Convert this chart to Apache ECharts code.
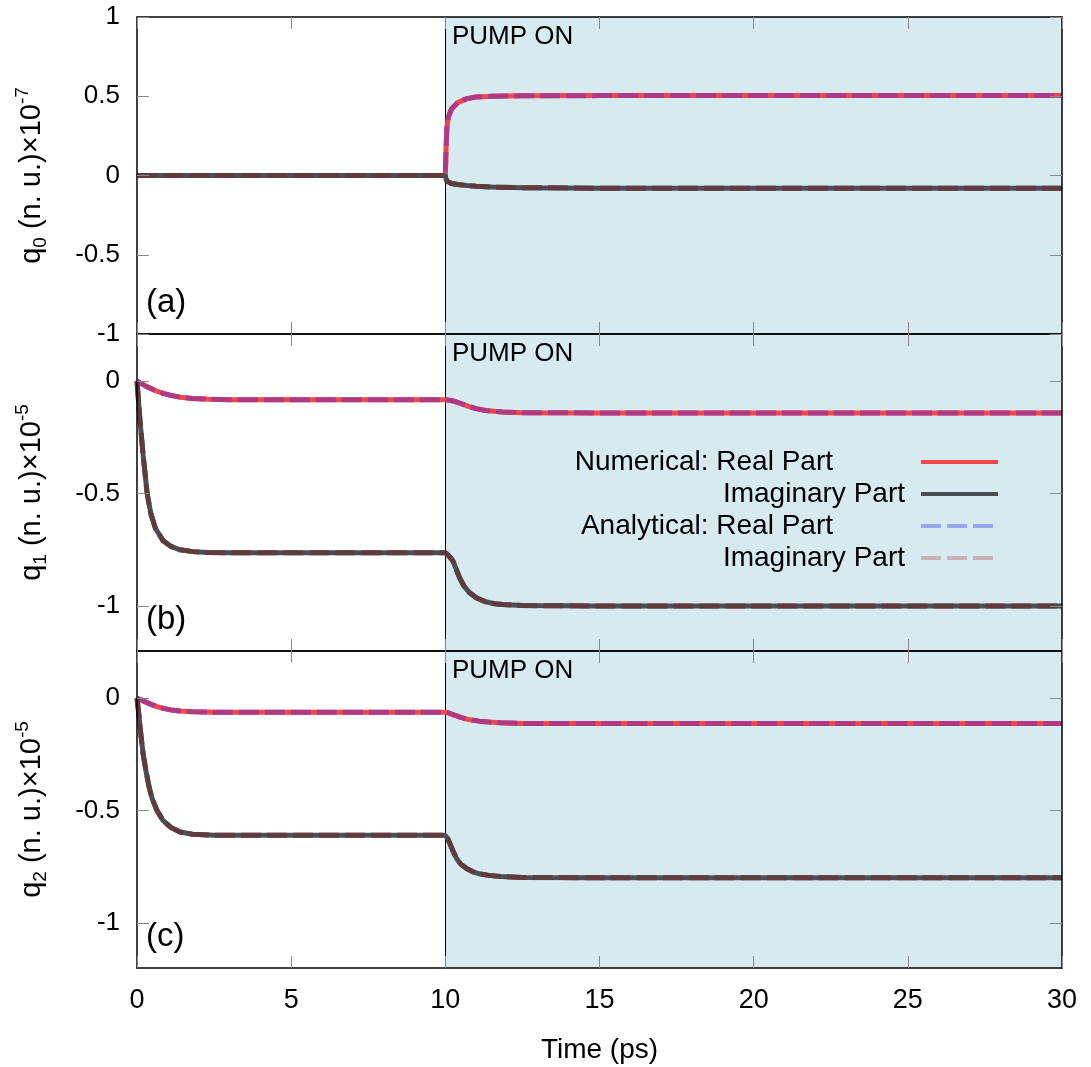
<!DOCTYPE html>
<html>
<head>
<meta charset="utf-8">
<script src="https://cdn.jsdelivr.net/npm/echarts@6/dist/echarts.min.js"></script>
<style>html,body{margin:0;padding:0;background:#fff}#c{width:1091px;height:1067px}</style>
</head>
<body>
<div id="c"></div>
<script>
// ---------- data ----------
const xTicks = [0, 5, 10, 15, 20, 25, 30];
const pumpOnTime = 10;

// panel (a): q0 x1e-7
const timeA = [0, 10, 10.02, 10.05, 10.1, 10.2, 10.4, 10.7, 11, 11.5, 12.5, 15, 20, 30];
const realA = [0, 0, 0.15, 0.30, 0.37, 0.42, 0.46, 0.485, 0.495, 0.50, 0.503, 0.504, 0.504, 0.504];
const imagA = [0, 0, -0.02, -0.035, -0.042, -0.05, -0.057, -0.063, -0.068, -0.073, -0.077, -0.08, -0.08, -0.08];

// panel (b): q1 x1e-5
const timeB = [0, 0.05, 0.1, 0.2, 0.33, 0.45, 0.6, 0.85, 1.1, 1.4, 1.8, 2.3, 3, 5, 10, 10.1, 10.25, 10.35, 10.46, 10.6, 10.78, 11, 11.3, 11.6, 11.85, 12.5, 15, 20, 30];
const realB = [0, -0.004, -0.008, -0.015, -0.025, -0.032, -0.042, -0.054, -0.063, -0.071, -0.077, -0.08, -0.082, -0.082, -0.082, -0.084, -0.088, -0.092, -0.097, -0.104, -0.113, -0.122, -0.13, -0.134, -0.137, -0.14, -0.141, -0.141, -0.141];
const imagB = [0, -0.09, -0.18, -0.33, -0.5, -0.59, -0.655, -0.71, -0.735, -0.75, -0.758, -0.762, -0.763, -0.763, -0.763, -0.775, -0.80, -0.835, -0.874, -0.91, -0.94, -0.963, -0.981, -0.99, -0.993, -0.998, -1.0, -1.0, -1.0];

// panel (c): q2 x1e-5
const timeC = [0, 0.05, 0.1, 0.2, 0.3, 0.4, 0.5, 0.65, 0.85, 1.1, 1.4, 1.8, 2.5, 5, 10, 10.08, 10.15, 10.25, 10.37, 10.5, 10.7, 10.9, 11.1, 11.4, 11.8, 12.5, 15, 20, 30];
const realC = [0, -0.003, -0.006, -0.012, -0.018, -0.024, -0.03, -0.037, -0.045, -0.052, -0.057, -0.06, -0.062, -0.062, -0.062, -0.064, -0.068, -0.073, -0.079, -0.085, -0.093, -0.098, -0.102, -0.106, -0.109, -0.112, -0.113, -0.113, -0.113];
const imagC = [0, -0.06, -0.13, -0.25, -0.33, -0.40, -0.45, -0.5, -0.545, -0.575, -0.595, -0.605, -0.61, -0.61, -0.61, -0.625, -0.647, -0.68, -0.714, -0.738, -0.759, -0.772, -0.781, -0.788, -0.793, -0.797, -0.799, -0.799, -0.799];

const yTicksA = [-1, -0.5, 0, 0.5, 1];
const yTicksBC = [-1, -0.5, 0];
const panelLetters = ['(a)', '(b)', '(c)'];
const ySubs = ['0', '1', '2'];
const ySups = ['-7', '-5', '-5'];
const seriesNames = ['Numerical: Real Part', 'Imaginary Part', 'Analytical: Real Part', 'Imaginary Part '];

// ---------- layout / style ----------
const FONT = "'Liberation Sans', Arial, sans-serif";
const panels = [
  { top: 17, height: 317, min: -1, max: 1, t: timeA, re: realA, im: imagA, ticks: yTicksA },
  { top: 334, height: 317, min: -1.2, max: 0.21, t: timeB, re: realB, im: imagB, ticks: yTicksBC },
  { top: 651, height: 317, min: -1.2, max: 0.21, t: timeC, re: realC, im: imagC, ticks: yTicksBC }
];
const LEFT = 137, WIDTH = 925;
const BG = '#d6eaf0';
const zip = (t, v) => t.map((x, k) => [x, v[k]]);

const grid = [], xAxis = [], yAxis = [], series = [], graphic = [];

panels.forEach((p, i) => {
  grid.push({ left: LEFT, width: WIDTH, top: p.top, height: p.height, containLabel: false });
  const isLast = i === panels.length - 1;
  const axisLine = { show: true, onZero: false, lineStyle: { color: '#000', width: 1.5 } };
  const tick = { show: true, inside: true, length: 12, lineStyle: { color: '#888', width: 1 } };
  xAxis.push({
    type: 'value', gridIndex: i, min: 0, max: 30, interval: 5, position: 'bottom', z: 5,
    axisLine, axisTick: tick, splitLine: { show: false },
    axisLabel: { show: isLast, margin: 19, fontSize: 27, color: '#000', fontFamily: FONT },
    name: isLast ? 'Time (ps)' : '', nameLocation: 'middle', nameGap: 68,
    nameTextStyle: { fontSize: 28, color: '#000', fontFamily: FONT }
  });
  xAxis.push({
    type: 'value', gridIndex: i, min: 0, max: 30, interval: 5, position: 'top', z: 5,
    axisLine, axisTick: tick, splitLine: { show: false }, axisLabel: { show: false }
  });
  const yCommon = {
    type: 'value', gridIndex: i, min: p.min, max: p.max, z: 5,
    axisLine, splitLine: { show: false }
  };
  const tickCfg = i === 0 ? Object.assign({}, tick) : Object.assign({ customValues: p.ticks }, tick);
  const labCfg = { show: true, margin: 17, fontSize: 26, color: '#000', fontFamily: FONT };
  if (i !== 0) labCfg.customValues = p.ticks;
  const yLeft = Object.assign({}, yCommon, {
    position: 'left', axisTick: tickCfg, axisLabel: labCfg,
    name: `{b|q}{s|${ySubs[i]}}{b| (n. u.)×10}{p|${ySups[i]}}`,
    nameLocation: 'middle', nameGap: 87, nameRotate: 90,
    nameTextStyle: {
      color: '#000', fontFamily: FONT, fontSize: 29,
      rich: {
        b: { fontSize: 29, fontFamily: FONT, color: '#000', lineHeight: 37 },
        s: { fontSize: 19, fontFamily: FONT, color: '#000', verticalAlign: 'bottom', lineHeight: 19 },
        p: { fontSize: 19, fontFamily: FONT, color: '#000', verticalAlign: 'top', lineHeight: 19 }
      }
    }
  });
  if (i === 0) yLeft.interval = 0.5;
  yAxis.push(yLeft);
  const yRight = Object.assign({}, yCommon, {
    position: 'right', axisTick: tickCfg, axisLabel: { show: false }
  });
  if (i === 0) yRight.interval = 0.5;
  yAxis.push(yRight);

  const xi = 2 * i, yi = 2 * i;
  series.push({
    name: seriesNames[0], type: 'line', xAxisIndex: xi, yAxisIndex: yi, symbol: 'none',
    data: zip(p.t, p.re), lineStyle: { color: '#f04848', width: 5 }, itemStyle: { color: '#f04848' },
    z: 2, animation: false,
    markArea: {
      silent: true, z: 1, itemStyle: { color: BG },
      data: [[{ xAxis: pumpOnTime }, { xAxis: 30 }]]
    },
    markLine: {
      silent: true, z: 1, symbol: 'none', label: { show: false },
      lineStyle: { color: '#000', width: 1, type: 'solid' },
      data: [{ xAxis: pumpOnTime }]
    }
  });
  series.push({
    name: seriesNames[1], type: 'line', xAxisIndex: xi, yAxisIndex: yi, symbol: 'none',
    data: zip(p.t, p.im), lineStyle: { color: '#4b4f55', width: 5 }, itemStyle: { color: '#4b4f55' },
    z: 2, animation: false
  });
  series.push({
    name: seriesNames[2], type: 'line', xAxisIndex: xi, yAxisIndex: yi, symbol: 'none',
    data: zip(p.t, p.re), lineStyle: { color: '#ae3a85', width: 5, type: [20, 6] }, itemStyle: { color: '#ae3a85' },
    z: 3, animation: false
  });
  series.push({
    name: seriesNames[3], type: 'line', xAxisIndex: xi, yAxisIndex: yi, symbol: 'none',
    data: zip(p.t, p.im), lineStyle: { color: '#5f3b3f', width: 5, type: [20, 6] }, itemStyle: { color: '#5f3b3f' },
    z: 3, animation: false
  });

  graphic.push({
    type: 'text', left: 452, top: p.top + 7, z: 10,
    style: { text: 'PUMP ON', font: `26px ${FONT}`, fill: '#000' }
  });
  graphic.push({
    type: 'text', left: 146, top: p.top + p.height - 48, z: 10,
    style: { text: panelLetters[i], font: `33px ${FONT}`, fill: '#000' }
  });
});

const option = {
  backgroundColor: '#fff',
  animation: false,
  grid, xAxis, yAxis, series, graphic,
  legend: {
    orient: 'vertical', align: 'right', right: 91, top: 448, padding: 0,
    itemWidth: 77, itemHeight: 14, itemGap: 4, selectedMode: false,
    formatter: n => n.trim(),
    textStyle: { fontSize: 28, fontFamily: FONT, color: '#000', lineHeight: 28, padding: [0, 11, 0, 0] },
    data: [
      { name: seriesNames[0], textStyle: { padding: [0, 83, 0, 0] }, lineStyle: { color: '#f04848', width: 4, type: 'solid' }, itemStyle: { color: '#f04848', opacity: 0 } },
      { name: seriesNames[1], lineStyle: { color: '#4a4d52', width: 4, type: 'solid' }, itemStyle: { color: '#4a4d52', opacity: 0 } },
      { name: seriesNames[2], textStyle: { padding: [0, 83, 0, 0] }, lineStyle: { color: '#9aa5f2', width: 4, type: [20, 6] }, itemStyle: { color: '#9aa5f2', opacity: 0 } },
      { name: seriesNames[3], lineStyle: { color: '#c8b1b7', width: 4, type: [20, 6] }, itemStyle: { color: '#c8b1b7', opacity: 0 } }
    ]
  }
};

const chart = echarts.init(document.getElementById('c'), null, { renderer: 'canvas' });
chart.setOption(option);
</script>
</body>
</html>
